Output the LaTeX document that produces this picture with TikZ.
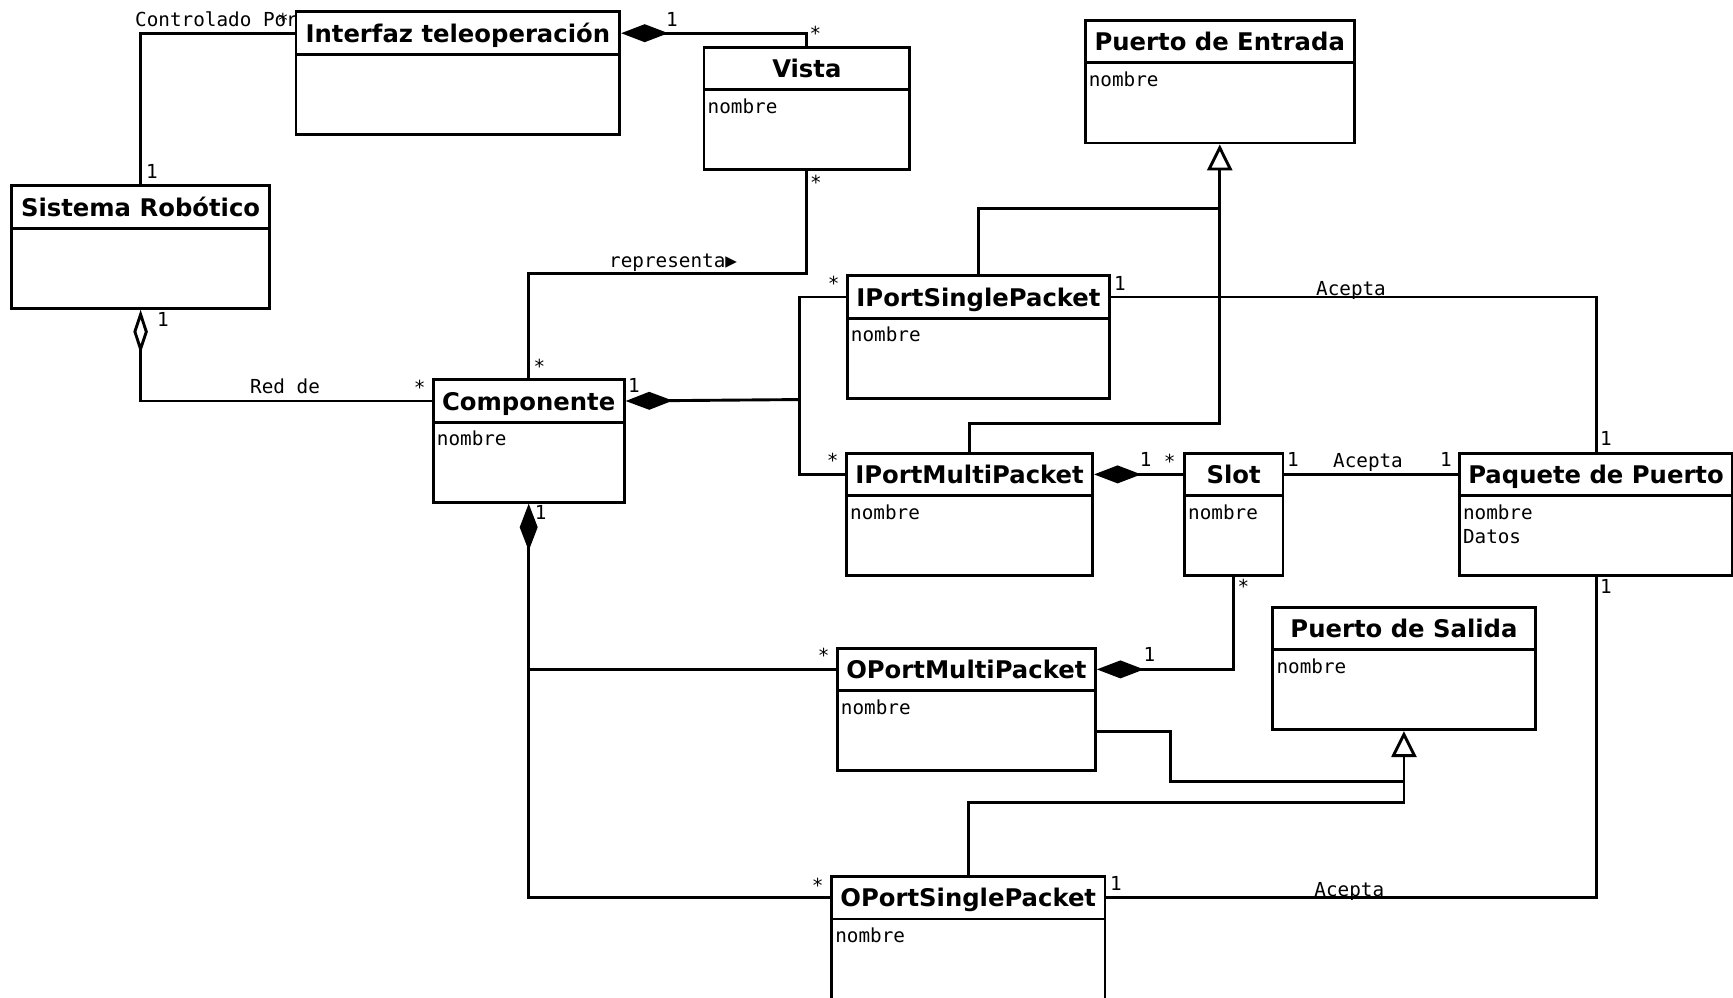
\documentclass[tikz,border=0pt]{standalone}
\usepackage{fontspec}
\setmainfont{DejaVu Sans}
\newfontfamily\umlmono{DejaVu Sans Mono}
\usetikzlibrary{arrows.meta}

\tikzset{
  x=1pt, y=-1pt,
  wire/.style={line width=2.9pt, line join=miter},
  classbox/.style={draw, line width=2.9pt, minimum height=122.5pt, inner sep=0pt, anchor=north west},
  classhead/.style={draw, line width=2.9pt, minimum height=42.5pt, inner sep=0pt, anchor=north west,
    text height=18pt, text depth=0pt, font=\fontsize{24.3}{29}\selectfont\bfseries},
  attr/.style={anchor=base west, inner sep=0pt, font=\fontsize{19.3}{24}\selectfont\umlmono},
  mult/.style={anchor=base, inner sep=0pt, font=\fontsize{19.3}{24}\selectfont\umlmono},
  filldia/.tip={Diamond[length=47pt, width=18pt]},
  opendia/.tip={Diamond[open, length=44pt, width=14.5pt, line width=2.9pt]},
  gentri/.tip={Triangle[open, length=26pt, width=25pt, line width=2.9pt]},
}

% class: name, left x, top y, right x, title
\newcommand\umlclass[5]{%
  \node[classbox, minimum width={#4-#2}] (#1) at (#2,#3) {};
  \node[classhead, minimum width={#4-#2}] (#1-h) at (#2,#3) {#5};
}
% attribute line below the header: class name, node name, line offset, text
\newcommand\umlattr[4]{%
  \node[attr] (#2) at ([xshift=5pt, yshift={-22pt-#3}]#1-h.south west) {#4};
}

\begin{document}
\begin{tikzpicture}
\useasboundingbox (0,0) rectangle (1733,998);

% classes
\umlclass{inter}{294.5}{10.5}{618.3}{Interfaz teleoperación}
\umlclass{vista}{702.5}{45.7}{908.3}{Vista}
\umlclass{sist}{10}{184.3}{268.3}{Sistema Robótico}
\umlclass{pent}{1083.6}{19}{1353}{Puerto de Entrada}
\umlclass{ips}{845.7}{274.3}{1108.3}{IPortSinglePacket}
\umlclass{comp}{431.7}{378.3}{622.8}{Componente}
\umlclass{ipm}{845}{451.7}{1091.2}{IPortMultiPacket}
\umlclass{slot}{1183}{451.7}{1281.5}{Slot}
\umlclass{paq}{1457.8}{451.7}{1731.4}{Paquete de Puerto}
\umlclass{psal}{1271.4}{605.7}{1533.6}{Puerto de Salida}
\umlclass{opm}{835.7}{646.7}{1094}{OPortMultiPacket}
\umlclass{ops}{830.1}{875}{1103.5}{OPortSinglePacket}

% attributes
\umlattr{vista}{vista-a}{0}{nombre}
\umlattr{pent}{pent-a}{0}{nombre}
\umlattr{ips}{ips-a}{0}{nombre}
\umlattr{comp}{comp-a}{0}{nombre}
\umlattr{ipm}{ipm-a}{0}{nombre}
\umlattr{slot}{slot-a}{0}{nombre}
\umlattr{paq}{paq-a}{0}{nombre}
\umlattr{paq}{paq-b}{24}{Datos}
\umlattr{psal}{psal-a}{0}{nombre}
\umlattr{opm}{opm-a}{0}{nombre}
\umlattr{ops}{ops-a}{0}{nombre}

% junction points
\coordinate (repr) at (vista.south |- 0,273.3);
\coordinate (inj) at (799.5,399.55);
\coordinate (outj) at (comp.south |- opm-h.west);
\coordinate (pej) at (pent.south |- 0,208.3);
\coordinate (psj) at (psal.south |- 0,781.7);

% associations and compositions
\draw[wire, -filldia] (vista.north) |- (inter-h.east);
\draw[wire] (inter-h.west) -| (sist.north);
\draw[wire, -opendia] (comp-h.west) -| (sist.south);
\draw[wire] (vista.south) -- (repr) -| (comp.north);
\draw[wire, filldia-] (comp-h.east) -- (inj);
\draw[wire] (ips-h.west) -| (inj) |- (ipm-h.west);
\draw[wire, filldia-] (comp.south) |- (ops-h.west);
\draw[wire] (outj) -- (opm-h.west);
\draw[wire] (ips-h.east) -| (paq.north);
\draw[wire, -filldia] (slot-h.west) -- (ipm-h.east);
\draw[wire] (slot-h.east) -- (paq-h.west);
\draw[wire, -filldia] (slot.south) |- (opm-h.east);
\draw[wire] (ops-h.east) -| (paq.south);

% generalizations
\draw[wire, -gentri] (ipm.north) -- ++(0,-28.4) -| (pent.south);
\draw[wire] (ips.north) |- (pej);
\draw[wire, -gentri] (ops.north) -- ++(0,-72.3) -| (psal.south);
\draw[wire] ([yshift=-22pt]opm.east) -- ++(73.5,0) |- (psj);

% association names
\node[attr] (l-ctrl) at (135,26.7) {Controlado Por};
\node[attr] (l-repr) at (609,267) {representa▶};
\node[attr] (l-red) at (250,393) {Red de};
\node[mult] (l-ac1) at (1351,295.8) {Acepta};
\node[mult] (l-ac2) at (1368,467.5) {Acepta};
\node[mult] (l-ac3) at (1349.3,896) {Acepta};

% multiplicities
\node[mult] (m1) at (672,26.5) {1};
\node[mult] (m2) at (815.5,40.5) {*};
\node[mult] (m3) at (283,27.3) {*};
\node[mult] (m4) at (152,178) {1};
\node[mult] (m5) at (816,189) {*};
\node[mult] (m6) at (539.5,373.5) {*};
\node[mult] (m7) at (163,326.7) {1};
\node[mult] (m8) at (419.6,394.6) {*};
\node[mult] (m9) at (634,392.7) {1};
\node[mult] (m10) at (540.6,519) {1};
\node[mult] (m11) at (833.7,290.8) {*};
\node[mult] (m12) at (1120,290) {1};
\node[mult] (m13) at (1606,445) {1};
\node[mult] (m14) at (832.6,467.5) {*};
\node[mult] (m15) at (1145.6,466.7) {1};
\node[mult] (m16) at (1169.6,468.2) {*};
\node[mult] (m17) at (1292.8,466.7) {1};
\node[mult] (m18) at (1446,466.7) {1};
\node[mult] (m19) at (1243.5,593) {*};
\node[mult] (m20) at (1606,593.3) {1};
\node[mult] (m21) at (1149.5,661.7) {1};
\node[mult] (m22) at (823.7,662.8) {*};
\node[mult] (m23) at (817.7,892.5) {*};
\node[mult] (m24) at (1116,890.7) {1};
\end{tikzpicture}
\end{document}
